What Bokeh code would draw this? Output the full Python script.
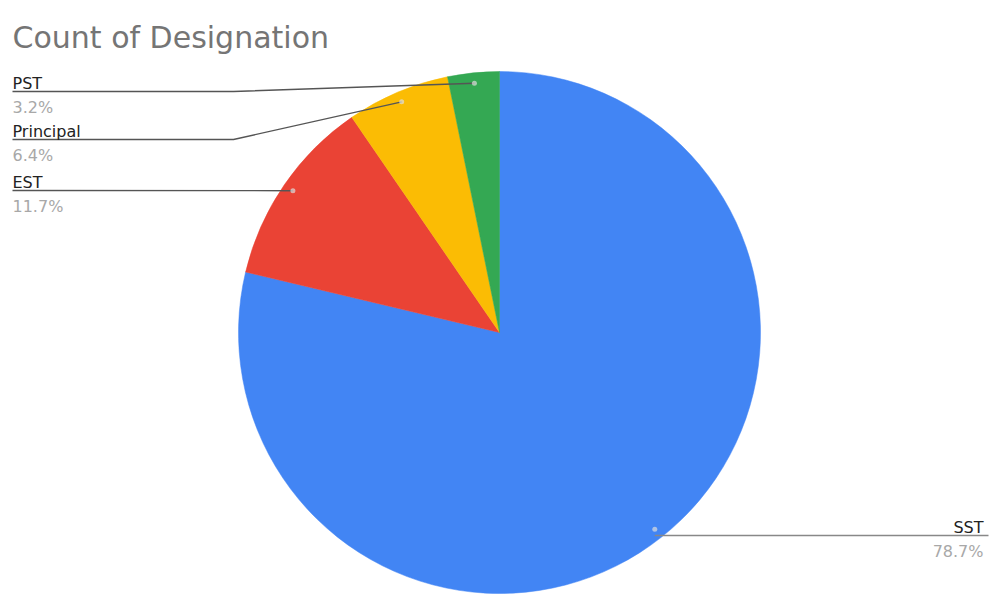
import numpy as np
from bokeh.plotting import figure
from bokeh.models import Range1d, ColumnDataSource
from bokeh.core.properties import value
from bokeh.embed import file_html
from bokeh.resources import INLINE

# ---- data ----
title = "Count of Designation"
categories = ["SST", "EST", "Principal", "PST"]
counts = [74, 11, 6, 3]
colors = ["#4285F4", "#EA4335", "#FBBC04", "#34A853"]

# ---- layout ----
W, H = 992, 598
FONT = "DejaVu Sans"


def fx(rx):
    return rx


def fy(ry):
    return H - ry


p = figure(width=W, height=H, output_backend="svg", toolbar_location=None,
           x_range=Range1d(0, W), y_range=Range1d(0, H), min_border=0,
           outline_line_color=None, tools="")
p.axis.visible = False
p.grid.visible = False
p.background_fill_color = "white"
p.border_fill_color = "white"

cx, cy, R = fx(499), fy(332), 261
total = float(sum(counts))
fracs = np.array(counts) / total
ends = np.cumsum(fracs)
starts = ends - fracs
mids = (starts + ends) / 2

src = ColumnDataSource(dict(
    cat=categories,
    start=np.pi / 2 - 2 * np.pi * starts,
    end=np.pi / 2 - 2 * np.pi * ends,
    color=colors,
))
p.wedge(x=cx, y=cy, radius=R, radius_units="screen", start_angle="start",
        end_angle="end", direction="clock", fill_color="color",
        line_color="color", line_width=0.5, source=src)

# dots and leader lines
theta = np.pi / 2 - 2 * np.pi * mids
dot_x = cx + 0.96 * R * np.cos(theta)
dot_y = cy + 0.96 * R * np.sin(theta)

# label layout per category (reference pixel coordinates)
layout = {
    "SST": dict(side="right", line_y=535, elbow=None),
    "EST": dict(side="left", line_y=190, elbow=None),
    "Principal": dict(side="left", line_y=139, elbow=233),
    "PST": dict(side="left", line_y=91, elbow=233),
}

for i, cat in enumerate(categories):
    L = layout[cat]
    ly = fy(L["line_y"])
    pct = f"{fracs[i] * 100:.1f}%"
    if L["side"] == "left":
        xs = [fx(12)]
        ys = [ly]
        if L["elbow"] is not None:
            xs.append(fx(L["elbow"]))
            ys.append(ly)
        xs.append(dot_x[i])
        ys.append(dot_y[i])
        tx, align = fx(12), "left"
        lc = "#555555"
    else:
        xs = [dot_x[i], fx(988)]
        ys = [ly, ly]
        tx, align = fx(983), "right"
        lc = "#888888"
    p.line(xs, ys, line_color=lc, line_width=1.4)
    p.text(x=[tx], y=[ly + 8], text=[cat], text_font=value(FONT),
           text_font_size="16px", text_color="#222222", text_align=align,
           text_baseline="alphabetic")
    p.text(x=[tx], y=[ly - 16], text=[pct], text_font=value(FONT),
           text_font_size="16px", text_color="#a8a8a8", text_align=align,
           text_baseline="alphabetic")

p.scatter(x=dot_x, y=dot_y, size=5, fill_color="#dddddd", fill_alpha=0.7,
          line_color=None)

# title
p.text(x=[fx(12)], y=[fy(37)], text=[title], text_font=value(FONT),
       text_font_size="30px", text_color="#757575", text_align="left",
       text_baseline="alphabetic")

open("out.html", "w").write(file_html(p, INLINE))
